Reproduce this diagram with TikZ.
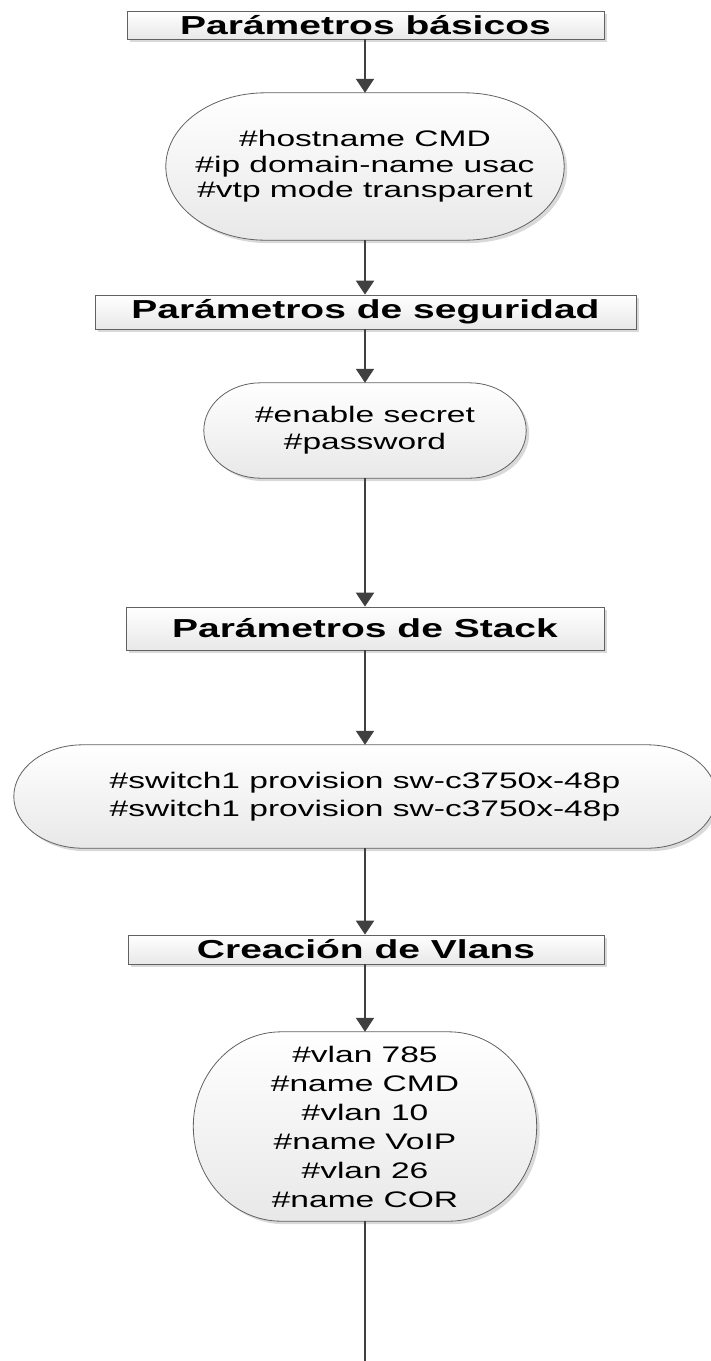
\documentclass[tikz,border=0pt]{standalone}
\usepackage{fontspec}
\setmainfont{Liberation Sans}
% wide Arial-like faces used for the labels
\newfontfamily\wideface[FakeStretch=1.49]{Liberation Sans}
\newfontfamily\titleface[FakeStretch=1.50]{Liberation Sans}
\usetikzlibrary{arrows.meta,shadows,calc}
\pgfdeclarelayer{background}
\pgfsetlayers{background,main}

\tikzset{
  shapefill/.style={draw=black!62, line width=0.8pt,
    top color=white, bottom color=black!9,
    drop shadow={shadow xshift=3pt, shadow yshift=-3pt, fill=black!15, opacity=1}},
  titlebox/.style={shapefill, rectangle, inner sep=0pt,
    font=\titleface\bfseries\fontsize{26}{29}\selectfont},
  cmdtext/.style={rectangle, inner sep=0pt, align=center,
    font=\wideface\fontsize{22.5}{#1}\selectfont},
  flow/.style={draw=black!75, line width=2pt, -{Triangle[length=14pt,width=18pt]}},
  tailline/.style={draw=black!75, line width=2pt},
}

% terminator outline around a text node: #1 node name, #2 horizontal end radius (pt)
\newcommand\termoutline[2]{%
  \path[shapefill] let \p1=(#1.north west), \p2=(#1.south east) in
    (\x1+#2pt,\y1) -- (\x2-#2pt,\y1)
    arc[start angle=90, end angle=-90, x radius=#2pt, y radius={(\y1-\y2)/2}]
    -- (\x1+#2pt,\y2)
    arc[start angle=270, end angle=90, x radius=#2pt, y radius={(\y1-\y2)/2}]
    -- cycle;
}

\begin{document}
\begin{tikzpicture}[x=1pt, y=-1pt]
\useasboundingbox (0,0) rectangle (711,1361);

% section headers
\node[titlebox, minimum width=477pt, minimum height=28pt] (t1) at (365.5,25) {Parámetros básicos};
\node[titlebox, minimum width=541pt, minimum height=34pt] (t2) at (365.5,312) {Parámetros de seguridad};
\node[titlebox, minimum width=478pt, minimum height=43pt] (t3) at (365,628.5) {Parámetros de Stack};
\node[titlebox, minimum width=476pt, minimum height=29pt] (t4) at (366,949.5) {Creación de Vlans};

% command blocks
\node[cmdtext=25.5, minimum width=398pt, minimum height=147pt] (s1) at (365,166.5)
  {\#hostname CMD\\\#ip domain-name usac\\\#vtp mode transparent};
\node[cmdtext=27, minimum width=322pt, minimum height=95pt] (s2) at (365,430.5)
  {\#enable secret\\\#password};
\node[cmdtext=28, minimum width=702pt, minimum height=103pt] (s3) at (365,796.5)
  {\#switch1 provision sw-c3750x-48p\\\#switch1 provision sw-c3750x-48p};
\node[cmdtext=29, minimum width=343pt, minimum height=189pt] (s4) at (365,1126.5)
  {\#vlan 785\\\#name CMD\\\#vlan 10\\\#name VoIP\\\#vlan 26\\\#name COR};

\coordinate (tail) at (365,1361);

\begin{pgfonlayer}{background}
  \termoutline{s1}{100}
  \termoutline{s2}{57}
  \termoutline{s3}{69}
  \termoutline{s4}{88}
\end{pgfonlayer}

% flow connectors
\draw[flow] (t1.south -| s1.north) -- (s1.north);
\draw[flow] (s1.south) -- (s1.south |- t2.north);
\draw[flow] (s1.south |- t2.south) -- (s2.north);
\draw[flow] (s2.south) -- (s2.south |- t3.north);
\draw[flow] (s2.south |- t3.south) -- (s3.north);
\draw[flow] (s3.south) -- (s3.south |- t4.north);
\draw[flow] (s3.south |- t4.south) -- (s4.north);
\draw[tailline] (s4.south) -- (tail);
\end{tikzpicture}
\end{document}
